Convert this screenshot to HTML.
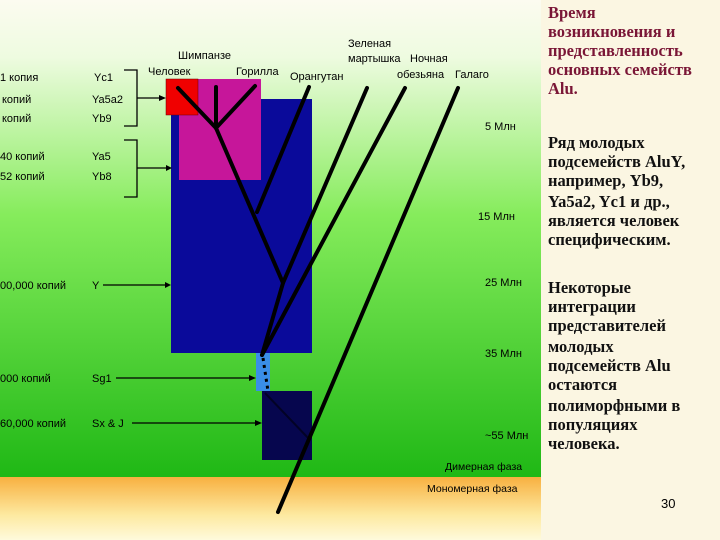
<!DOCTYPE html>
<html><head><meta charset="utf-8"><style>
html,body{margin:0;padding:0;width:720px;height:540px;overflow:hidden;background:#fbf6e2}
svg{position:absolute;left:0;top:0}
.s{font-family:"Liberation Sans",sans-serif;font-size:11px;fill:#000}
.r{font-family:"Liberation Serif",serif;font-weight:bold;font-size:16.5px;fill:#111}
.t{fill:#7a1636}
</style></head><body>
<svg width="720" height="540" viewBox="0 0 720 540">
<defs>
<linearGradient id="g" x1="0" y1="0" x2="0" y2="1">
<stop offset="0" stop-color="#fcfbf0"/>
<stop offset="0.12" stop-color="#eefbe0"/>
<stop offset="0.45" stop-color="#86ec5c"/>
<stop offset="1" stop-color="#1fb815"/>
</linearGradient>
<linearGradient id="o" x1="0" y1="0" x2="0" y2="1">
<stop offset="0" stop-color="#f8b040"/>
<stop offset="0.6" stop-color="#fde9a0"/>
<stop offset="1" stop-color="#fefadc"/>
</linearGradient>
</defs>
<rect x="0" y="0" width="541" height="477" fill="url(#g)"/>
<rect x="0" y="477" width="541" height="63" fill="url(#o)"/>
<rect x="171" y="99" width="141" height="254" fill="#0a0a9a"/>
<rect x="179" y="79" width="82" height="101" fill="#c6169a"/>
<rect x="166" y="79" width="32" height="36" fill="#f00000" stroke="#600" stroke-width="0.5"/>
<rect x="256" y="353" width="14" height="38" fill="#3a8ee8"/>
<rect x="262" y="391" width="50" height="69" fill="#06064e"/>
<g stroke="#000" stroke-width="4" stroke-linecap="round" fill="none">
<line x1="178" y1="88" x2="216" y2="128"/>
<line x1="216" y1="87" x2="216" y2="128"/>
<line x1="255" y1="86" x2="216" y2="128"/>
<polyline points="216,128 283,283 262,355"/>
<line x1="309" y1="87" x2="257" y2="212"/>
<line x1="367" y1="88" x2="283" y2="283"/>
<line x1="405" y1="88" x2="262" y2="355"/>
<line x1="458" y1="88" x2="278" y2="512"/>
</g>
<line x1="263" y1="358" x2="268" y2="391" stroke="#000" stroke-width="3" stroke-dasharray="3,4"/>
<line x1="265" y1="393" x2="310" y2="440" stroke="#000" stroke-width="2" opacity="0.5"/>
<g stroke="#000" stroke-width="1.3" fill="none">
<polyline points="124,70 137,70 137,126 124,126"/>
<polyline points="124,140 137,140 137,197 124,197"/>
<line x1="137" y1="98" x2="160" y2="98"/>
<line x1="137" y1="168" x2="168" y2="168"/>
<line x1="103" y1="285" x2="166" y2="285"/>
<line x1="116" y1="378" x2="250" y2="378"/>
<line x1="132" y1="423" x2="256" y2="423"/>
</g>
<g fill="#000">
<polygon points="166,98 159,95 159,101"/><polygon points="172,168 166,165 166,171"/>
<polygon points="171,285 165,282 165,288"/><polygon points="256,378 249,375 249,381"/>
<polygon points="262,423 255,420 255,426"/>
</g>
<g class="s">
<text x="0" y="81">1 копия</text><text x="94" y="81">Yc1</text>
<text x="2" y="103">копий</text><text x="92" y="103">Ya5a2</text>
<text x="2" y="122">копий</text><text x="92" y="122">Yb9</text>
<text x="0" y="160">40  копий</text><text x="92" y="160">Ya5</text>
<text x="0" y="180">52  копий</text><text x="92" y="180">Yb8</text>
<text x="0" y="289">00,000  копий</text><text x="92" y="289">Y</text>
<text x="0" y="382">000  копий</text><text x="92" y="382">Sg1</text>
<text x="0" y="427">60,000  копий</text><text x="92" y="427">Sx &amp; J</text>
<text x="178" y="59">Шимпанзе</text>
<text x="148" y="75">Человек</text><text x="236" y="75">Горилла</text>
<text x="290" y="80">Орангутан</text>
<text x="348" y="47">Зеленая</text><text x="348" y="62">мартышка</text>
<text x="410" y="62">Ночная</text><text x="397" y="78">обезьяна</text><text x="455" y="78">Галаго</text>
<text x="485" y="130">5 Млн</text><text x="478" y="220">15 Млн</text>
<text x="485" y="286">25 Млн</text><text x="485" y="357">35 Млн</text>
<text x="485" y="439">~55 Млн</text>
<text x="445" y="470" font-size="10.5">Димерная фаза</text>
<text x="427" y="492" font-size="10.5">Мономерная фаза</text>
<text x="661" y="508" font-size="13">30</text>
</g>
<g class="r">
<text class="r t" x="548" y="18">Время</text>
<text class="r t" x="548" y="37">возникновения и</text>
<text class="r t" x="548" y="56">представленность</text>
<text class="r t" x="548" y="75">основных семейств</text>
<text class="r t" x="548" y="94">Alu.</text>
<text x="548" y="148">Ряд молодых</text>
<text x="548" y="167">подсемейств AluY,</text>
<text x="548" y="186">например, Yb9,</text>
<text x="548" y="207">Ya5a2, Yc1 и др.,</text>
<text x="548" y="226">является человек</text>
<text x="548" y="245">специфическим.</text>
<text x="548" y="293">Некоторые</text>
<text x="548" y="312">интеграции</text>
<text x="548" y="331">представителей</text>
<text x="548" y="352">молодых</text>
<text x="548" y="371">подсемейств Alu</text>
<text x="548" y="390">остаются</text>
<text x="548" y="411">полиморфными в</text>
<text x="548" y="430">популяциях</text>
<text x="548" y="449">человека.</text>
</g>
</svg>
</body></html>
